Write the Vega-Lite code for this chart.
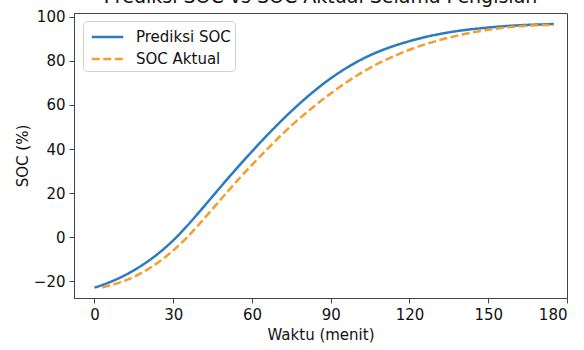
{
  "$schema": "https://vega.github.io/schema/vega-lite/v6.json",
  "width": 493,
  "height": 285,
  "autosize": {"type": "none"},
  "padding": {"left": 74, "top": 13, "right": 17, "bottom": 52},
  "background": "white",
  "title": {
    "text": "Prediksi SOC vs SOC Aktual Selama Pengisian",
    "frame": "group",
    "anchor": "middle",
    "baseline": "bottom",
    "offset": 3,
    "dy": 19,
    "fontSize": 19,
    "fontWeight": "normal",
    "font": "DejaVu Sans",
    "color": "#111"
  },
  "config": {
    "font": "DejaVu Sans",
    "view": {"stroke": "#444", "strokeWidth": 1}
  },
  "datasets": {
    "soc": [
      {"t": 0, "soc": -23.0, "series": "Prediksi SOC"},
      {"t": 5, "soc": -20.9, "series": "Prediksi SOC"},
      {"t": 10, "soc": -18.3, "series": "Prediksi SOC"},
      {"t": 15, "soc": -15.1, "series": "Prediksi SOC"},
      {"t": 20, "soc": -11.3, "series": "Prediksi SOC"},
      {"t": 25, "soc": -6.8, "series": "Prediksi SOC"},
      {"t": 30, "soc": -1.5, "series": "Prediksi SOC"},
      {"t": 35, "soc": 4.7, "series": "Prediksi SOC"},
      {"t": 40, "soc": 11.5, "series": "Prediksi SOC"},
      {"t": 45, "soc": 18.5, "series": "Prediksi SOC"},
      {"t": 50, "soc": 25.5, "series": "Prediksi SOC"},
      {"t": 55, "soc": 32.3, "series": "Prediksi SOC"},
      {"t": 60, "soc": 38.9, "series": "Prediksi SOC"},
      {"t": 65, "soc": 45.3, "series": "Prediksi SOC"},
      {"t": 70, "soc": 51.4, "series": "Prediksi SOC"},
      {"t": 75, "soc": 57.2, "series": "Prediksi SOC"},
      {"t": 80, "soc": 62.6, "series": "Prediksi SOC"},
      {"t": 85, "soc": 67.6, "series": "Prediksi SOC"},
      {"t": 90, "soc": 72.1, "series": "Prediksi SOC"},
      {"t": 95, "soc": 76.1, "series": "Prediksi SOC"},
      {"t": 100, "soc": 79.6, "series": "Prediksi SOC"},
      {"t": 105, "soc": 82.6, "series": "Prediksi SOC"},
      {"t": 110, "soc": 85.1, "series": "Prediksi SOC"},
      {"t": 115, "soc": 87.2, "series": "Prediksi SOC"},
      {"t": 120, "soc": 89.0, "series": "Prediksi SOC"},
      {"t": 125, "soc": 90.6, "series": "Prediksi SOC"},
      {"t": 130, "soc": 91.9, "series": "Prediksi SOC"},
      {"t": 135, "soc": 93.0, "series": "Prediksi SOC"},
      {"t": 140, "soc": 93.9, "series": "Prediksi SOC"},
      {"t": 145, "soc": 94.6, "series": "Prediksi SOC"},
      {"t": 150, "soc": 95.2, "series": "Prediksi SOC"},
      {"t": 155, "soc": 95.7, "series": "Prediksi SOC"},
      {"t": 160, "soc": 96.1, "series": "Prediksi SOC"},
      {"t": 165, "soc": 96.4, "series": "Prediksi SOC"},
      {"t": 170, "soc": 96.6, "series": "Prediksi SOC"},
      {"t": 175, "soc": 96.8, "series": "Prediksi SOC"},
      {"t": 3, "soc": -22.9, "series": "SOC Aktual"},
      {"t": 5, "soc": -22.3, "series": "SOC Aktual"},
      {"t": 10, "soc": -20.5, "series": "SOC Aktual"},
      {"t": 15, "soc": -18.1, "series": "SOC Aktual"},
      {"t": 20, "soc": -14.9, "series": "SOC Aktual"},
      {"t": 25, "soc": -10.9, "series": "SOC Aktual"},
      {"t": 30, "soc": -6.1, "series": "SOC Aktual"},
      {"t": 35, "soc": -0.5, "series": "SOC Aktual"},
      {"t": 40, "soc": 6.0, "series": "SOC Aktual"},
      {"t": 45, "soc": 12.8, "series": "SOC Aktual"},
      {"t": 50, "soc": 19.7, "series": "SOC Aktual"},
      {"t": 55, "soc": 26.4, "series": "SOC Aktual"},
      {"t": 60, "soc": 32.8, "series": "SOC Aktual"},
      {"t": 65, "soc": 39.0, "series": "SOC Aktual"},
      {"t": 70, "soc": 45.0, "series": "SOC Aktual"},
      {"t": 75, "soc": 50.6, "series": "SOC Aktual"},
      {"t": 80, "soc": 55.8, "series": "SOC Aktual"},
      {"t": 85, "soc": 60.7, "series": "SOC Aktual"},
      {"t": 90, "soc": 65.2, "series": "SOC Aktual"},
      {"t": 95, "soc": 69.5, "series": "SOC Aktual"},
      {"t": 100, "soc": 73.4, "series": "SOC Aktual"},
      {"t": 105, "soc": 76.9, "series": "SOC Aktual"},
      {"t": 110, "soc": 80.0, "series": "SOC Aktual"},
      {"t": 115, "soc": 82.7, "series": "SOC Aktual"},
      {"t": 120, "soc": 85.1, "series": "SOC Aktual"},
      {"t": 125, "soc": 87.2, "series": "SOC Aktual"},
      {"t": 130, "soc": 89.0, "series": "SOC Aktual"},
      {"t": 135, "soc": 90.6, "series": "SOC Aktual"},
      {"t": 140, "soc": 92.0, "series": "SOC Aktual"},
      {"t": 145, "soc": 93.2, "series": "SOC Aktual"},
      {"t": 150, "soc": 94.2, "series": "SOC Aktual"},
      {"t": 155, "soc": 95.0, "series": "SOC Aktual"},
      {"t": 160, "soc": 95.6, "series": "SOC Aktual"},
      {"t": 165, "soc": 96.0, "series": "SOC Aktual"},
      {"t": 170, "soc": 96.3, "series": "SOC Aktual"},
      {"t": 175, "soc": 96.4, "series": "SOC Aktual"}
    ]
  },
  "data": {"name": "soc"},
  "mark": {"type": "line", "strokeWidth": 2.5, "interpolate": "monotone", "clip": true},
  "encoding": {
    "x": {
      "field": "t",
      "type": "quantitative",
      "scale": {"domain": [-7.8, 180], "nice": false, "zero": false},
      "axis": {
        "title": "Waktu (menit)",
        "values": [0, 30, 60, 90, 120, 150, 180],
        "grid": false,
        "domainColor": "#444",
        "tickColor": "#444",
        "tickSize": 5,
        "labelFontSize": 15,
        "labelColor": "#111",
        "labelPadding": 4,
        "titleFontSize": 15,
        "titleFontWeight": "normal",
        "titleColor": "#111",
        "titlePadding": 5
      }
    },
    "y": {
      "field": "soc",
      "type": "quantitative",
      "scale": {"domain": [-27.7, 101.8], "nice": false, "zero": false},
      "axis": {
        "title": "SOC (%)",
        "values": [-20, 0, 20, 40, 60, 80, 100],
        "grid": false,
        "domainColor": "#444",
        "tickColor": "#444",
        "tickSize": 5,
        "labelFontSize": 15,
        "labelColor": "#111",
        "labelPadding": 4,
        "titleFontSize": 15,
        "titleFontWeight": "normal",
        "titleColor": "#111",
        "titlePadding": 3
      }
    },
    "color": {
      "field": "series",
      "type": "nominal",
      "scale": {"domain": ["Prediksi SOC", "SOC Aktual"], "range": ["#2a7bc2", "#f59d2f"]},
      "legend": {
        "title": null,
        "orient": "none",
        "legendX": 9,
        "legendY": 8,
        "direction": "vertical",
        "fillColor": "white",
        "strokeColor": "#d0d0d0",
        "cornerRadius": 4,
        "padding": 4,
        "symbolType": "M-1.5,0L1.5,0",
        "symbolSize": 441,
        "symbolOffset": 8.5,
        "symbolStrokeWidth": 2.5,
        "labelFontSize": 15,
        "labelColor": "#111",
        "labelOffset": 16.5,
        "rowPadding": 2
      }
    },
    "strokeDash": {
      "field": "series",
      "type": "nominal",
      "scale": {"domain": ["Prediksi SOC", "SOC Aktual"], "range": [[1, 0], [8, 3.5]]},
      "legend": null
    }
  }
}
